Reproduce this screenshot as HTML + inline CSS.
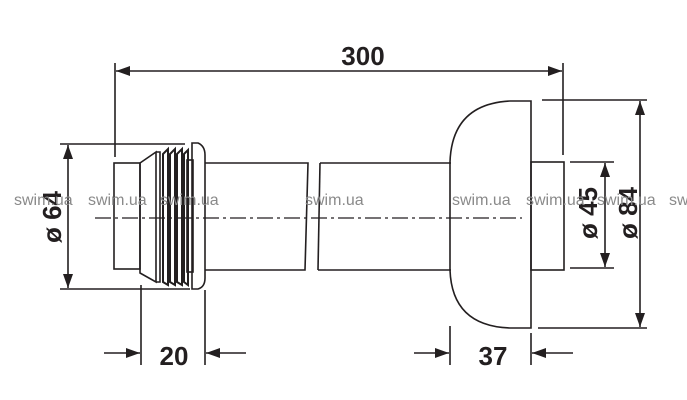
<!DOCTYPE html>
<html><head><meta charset="utf-8"><style>
html,body{margin:0;padding:0;background:#fff;}
svg{display:block;}
.d{font-family:"Liberation Sans",sans-serif;font-weight:bold;font-size:26px;fill:#231f20;}
.w{font-family:"Liberation Sans",sans-serif;font-size:16px;fill:#8a8a8a;}
</style></head><body>
<svg width="687" height="400" viewBox="0 0 687 400" xmlns="http://www.w3.org/2000/svg">
<defs>
<marker id="a" viewBox="0 0 14 10" refX="14" refY="5" markerWidth="14" markerHeight="10" markerUnits="userSpaceOnUse" orient="auto"><path d="M0,0 L14,5 L0,10 z" fill="#231f20"/></marker>
<marker id="b" viewBox="0 0 14 10" refX="0" refY="5" markerWidth="14" markerHeight="10" markerUnits="userSpaceOnUse" orient="auto"><path d="M14,0 L0,5 L14,10 z" fill="#231f20"/></marker>
</defs>
<g stroke="#231f20" stroke-width="1.6" fill="none">
<line x1="115" y1="63" x2="115" y2="157"/>
<line x1="563" y1="63" x2="563" y2="155"/>
<line x1="116" y1="71" x2="562" y2="71" marker-start="url(#b)" marker-end="url(#a)"/>
<line x1="60" y1="144" x2="185" y2="144"/>
<line x1="60" y1="289" x2="190" y2="289"/>
<line x1="68" y1="145" x2="68" y2="288" marker-start="url(#b)" marker-end="url(#a)"/>
<rect x="114" y="163" width="26" height="106"/>
<path d="M140,163 L156,152 L156,282 L140,273 Z"/>
<path d="M156,152 L160,152 L160,282 L156,282"/>
<path d="M163,154 L168,149 L168,285 L163,282 Z" stroke-width="2"/>
<path d="M170,154 L175,149 L175,285 L170,282 Z" stroke-width="2"/>
<path d="M177,154 L182,149 L182,285 L177,282 Z" stroke-width="2"/>
<path d="M184,154 L188,150 L188,285 L184,282 Z" stroke-width="2"/>
<rect x="187" y="160" width="6" height="112"/>
<path d="M192,143 L198,143 Q205,146 205,155 L205,278 Q205,287 198,289 L192,289 Z"/>
<path d="M205,163 L308,163 L305,270 L205,270"/>
<path d="M320,163 L318,270"/>
<line x1="320" y1="163" x2="451" y2="163"/>
<line x1="318" y1="270" x2="451" y2="270"/>
<path d="M531,101 L510,101 Q452,104 450,162 L450,270 Q452,326 510,328 L531,328 Z"/>
<rect x="531" y="162" width="33" height="108"/>
<line x1="570" y1="162" x2="614" y2="162"/>
<line x1="570" y1="268" x2="614" y2="268"/>
<line x1="605" y1="163" x2="605" y2="267" marker-start="url(#b)" marker-end="url(#a)"/>
<line x1="542" y1="100" x2="647" y2="100"/>
<line x1="538" y1="328" x2="647" y2="328"/>
<line x1="640" y1="101" x2="640" y2="327" marker-start="url(#b)" marker-end="url(#a)"/>
<line x1="141" y1="285" x2="141" y2="365"/>
<line x1="205" y1="290" x2="205" y2="365"/>
<line x1="104" y1="353" x2="140" y2="353" marker-end="url(#a)"/>
<line x1="246" y1="353" x2="206" y2="353" marker-end="url(#a)"/>
<line x1="450" y1="326" x2="450" y2="365"/>
<line x1="531" y1="333" x2="531" y2="365"/>
<line x1="414" y1="353" x2="449" y2="353" marker-end="url(#a)"/>
<line x1="573" y1="353" x2="532" y2="353" marker-end="url(#a)"/>
<line x1="95" y1="218" x2="522" y2="218" stroke-width="1.2" stroke-dasharray="16,4,3,4"/>
</g>
<text class="d" x="363" y="65" text-anchor="middle">300</text>
<text class="d" x="174" y="365" text-anchor="middle">20</text>
<text class="d" x="493" y="365" text-anchor="middle">37</text>
<text class="d" transform="translate(61,217) rotate(-90)" text-anchor="middle">ø 64</text>
<text class="d" transform="translate(597,213) rotate(-90)" text-anchor="middle">ø 45</text>
<text class="d" transform="translate(637,213) rotate(-90)" text-anchor="middle">ø 84</text>
<g class="w">
<text x="14" y="205">swim.ua</text>
<text x="88" y="205">swim.ua</text>
<text x="160" y="205">swim.ua</text>
<text x="305" y="205">swim.ua</text>
<text x="452" y="205">swim.ua</text>
<text x="526" y="205">swim.ua</text>
<text x="597" y="205">swim.ua</text>
<text x="669" y="205">sw</text>
</g>
</svg>
</body></html>
